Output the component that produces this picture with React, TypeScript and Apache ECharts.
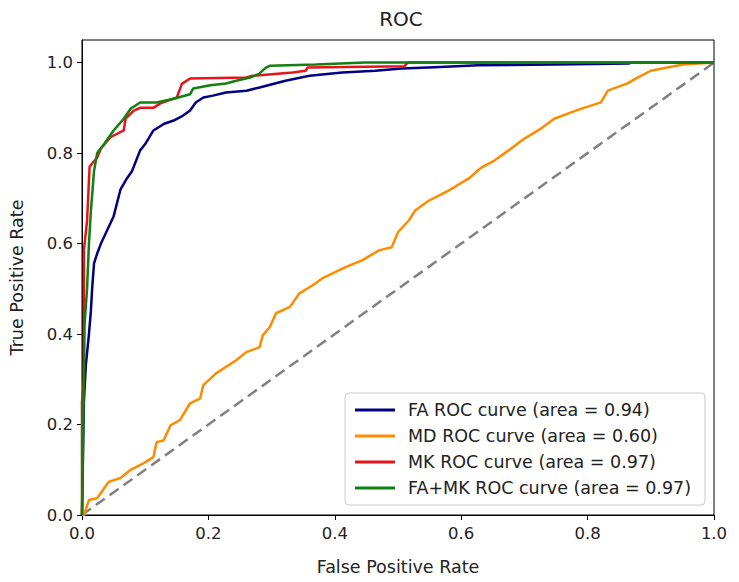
import React, { useEffect, useRef } from "react";
import * as echarts from "echarts";

const FA_FPR = [0, 0.003, 0.006, 0.011, 0.014, 0.016, 0.019, 0.024, 0.03, 0.04, 0.05, 0.061, 0.071, 0.079, 0.092, 0.1, 0.113, 0.13, 0.145, 0.16, 0.171, 0.18, 0.192, 0.207, 0.228, 0.26, 0.281, 0.322, 0.36, 0.412, 0.464, 0.506, 0.558, 0.627, 0.75, 0.865, 0.87, 1];
const FA_TPR = [0, 0.25, 0.33, 0.4, 0.45, 0.5, 0.556, 0.578, 0.6, 0.63, 0.66, 0.72, 0.744, 0.76, 0.806, 0.82, 0.85, 0.865, 0.872, 0.883, 0.894, 0.912, 0.923, 0.927, 0.934, 0.938, 0.945, 0.96, 0.971, 0.978, 0.982, 0.987, 0.99, 0.994, 0.996, 0.998, 1, 1];

const MD_FPR = [0, 0.003, 0.011, 0.024, 0.042, 0.061, 0.077, 0.097, 0.113, 0.118, 0.129, 0.14, 0.155, 0.171, 0.187, 0.192, 0.212, 0.244, 0.26, 0.281, 0.286, 0.297, 0.307, 0.329, 0.344, 0.365, 0.38, 0.417, 0.443, 0.47, 0.49, 0.5, 0.517, 0.527, 0.549, 0.58, 0.612, 0.632, 0.653, 0.675, 0.7, 0.726, 0.747, 0.774, 0.794, 0.821, 0.832, 0.863, 0.879, 0.9, 0.926, 0.951, 1];
const MD_TPR = [0, 0, 0.033, 0.037, 0.073, 0.082, 0.1, 0.114, 0.128, 0.161, 0.165, 0.198, 0.21, 0.247, 0.258, 0.287, 0.313, 0.342, 0.36, 0.371, 0.397, 0.415, 0.446, 0.46, 0.49, 0.508, 0.523, 0.548, 0.563, 0.585, 0.592, 0.625, 0.651, 0.673, 0.695, 0.717, 0.744, 0.768, 0.784, 0.806, 0.832, 0.854, 0.876, 0.89, 0.9, 0.912, 0.938, 0.954, 0.967, 0.982, 0.989, 0.996, 1];

const MK_FPR = [0, 0, 0.003, 0.003, 0.008, 0.012, 0.016, 0.024, 0.03, 0.045, 0.066, 0.069, 0.082, 0.092, 0.113, 0.124, 0.15, 0.158, 0.171, 0.26, 0.27, 0.333, 0.354, 0.357, 0.51, 0.515, 1];
const MK_TPR = [0, 0.25, 0.3, 0.585, 0.65, 0.77, 0.777, 0.79, 0.81, 0.835, 0.85, 0.876, 0.894, 0.9, 0.9, 0.91, 0.923, 0.953, 0.965, 0.967, 0.971, 0.978, 0.982, 0.989, 0.992, 1, 1];

const FAMK_FPR = [0, 0.004, 0.008, 0.011, 0.014, 0.019, 0.024, 0.035, 0.05, 0.066, 0.077, 0.092, 0.118, 0.145, 0.171, 0.176, 0.203, 0.228, 0.244, 0.266, 0.28, 0.291, 0.297, 0.37, 0.448, 1];
const FAMK_TPR = [0, 0.42, 0.5, 0.6, 0.67, 0.76, 0.8, 0.82, 0.85, 0.876, 0.898, 0.912, 0.912, 0.92, 0.93, 0.943, 0.95, 0.954, 0.96, 0.967, 0.975, 0.989, 0.993, 0.996, 1, 1];

const CHANCE_X = [0, 1];
const CHANCE_Y = [0, 1];

const SERIES_NAMES = [
  "FA ROC curve (area = 0.94)",
  "MD ROC curve (area = 0.60)",
  "MK ROC curve (area = 0.97)",
  "FA+MK ROC curve (area = 0.97)",
];
const COLORS = ["#000080", "#ff8c00", "#e8141c", "#118011"];

const zip = (xs: number[], ys: number[]) => xs.map((x, i) => [x, ys[i]]);

const FONT = "DejaVu Sans";

export default function App() {
  const ref = useRef<HTMLDivElement>(null);
  useEffect(() => {
    if (!ref.current) return;
    const chart = echarts.init(ref.current, undefined, { renderer: "svg" });
    const curves = [
      zip(FA_FPR, FA_TPR),
      zip(MD_FPR, MD_TPR),
      zip(MK_FPR, MK_TPR),
      zip(FAMK_FPR, FAMK_TPR),
    ];
    chart.setOption({
      animation: false,
      backgroundColor: "#ffffff",
      title: {
        text: "ROC",
        left: 396,
        top: 4,
        textAlign: "center",
        textStyle: { fontFamily: FONT, fontSize: 20, fontWeight: "normal", color: "#222" },
      },
      grid: {
        left: 78,
        right: 25,
        top: 40,
        bottom: 67,
        show: true,
        borderColor: "#000",
        borderWidth: 1,
        backgroundColor: "transparent",
      },
      legend: {
        left: 345,
        top: 393,
        orient: "vertical",
        icon: "rect",
        itemWidth: 40,
        itemHeight: 3,
        itemGap: 8,
        padding: [8, 14, 8, 10],
        borderColor: "#cccccc",
        borderWidth: 1,
        borderRadius: 4,
        backgroundColor: "#ffffff",
        data: SERIES_NAMES,
        textStyle: {
          fontFamily: FONT,
          fontSize: 17.5,
          color: "#222",
          lineHeight: 18,
          padding: [0, 0, 0, 8],
        },
      },
      xAxis: {
        type: "value",
        min: 0,
        max: 1,
        interval: 0.2,
        name: "False Positive Rate",
        nameLocation: "middle",
        nameGap: 43,
        nameTextStyle: { fontFamily: FONT, fontSize: 17.5, color: "#222" },
        axisLine: { show: true, lineStyle: { color: "#000", width: 1 } },
        axisTick: { show: true, inside: false, length: 5, lineStyle: { color: "#000" } },
        axisLabel: {
          fontFamily: FONT,
          fontSize: 16.5,
          color: "#222",
          margin: 10,
          formatter: (v: number) => v.toFixed(1),
        },
        splitLine: { show: false },
      },
      yAxis: {
        type: "value",
        min: 0,
        max: 1.05,
        interval: 0.2,
        name: "True Positive Rate",
        nameLocation: "middle",
        nameGap: 56,
        nameTextStyle: { fontFamily: FONT, fontSize: 17.5, color: "#222" },
        axisLine: { show: true, lineStyle: { color: "#000", width: 1 } },
        axisTick: { show: true, inside: false, length: 5, lineStyle: { color: "#000" } },
        axisLabel: {
          fontFamily: FONT,
          fontSize: 16.5,
          color: "#222",
          margin: 9,
          showMaxLabel: false,
          formatter: (v: number) => (Math.abs(v * 5 - Math.round(v * 5)) < 1e-6 ? v.toFixed(1) : ""),
        },
        splitLine: { show: false },
      },
      series: [
        ...curves.map((d, i) => ({
          name: SERIES_NAMES[i],
          type: "line",
          data: d,
          symbol: "none",
          showSymbol: false,
          color: COLORS[i],
          lineStyle: { color: COLORS[i], width: 2.5 },
          z: 3 + i,
        })),
        {
          name: "chance",
          type: "line",
          data: zip(CHANCE_X, CHANCE_Y),
          symbol: "none",
          showSymbol: false,
          color: "#808080",
          lineStyle: { color: "#808080", width: 2.5, type: [11, 6] },
          z: 2,
        },
      ],
    });
    return () => chart.dispose();
  }, []);
  return (
    <div
      ref={ref}
      style={{ position: "fixed", left: 0, top: 0, width: 739, height: 582, background: "#fff" }}
    />
  );
}
